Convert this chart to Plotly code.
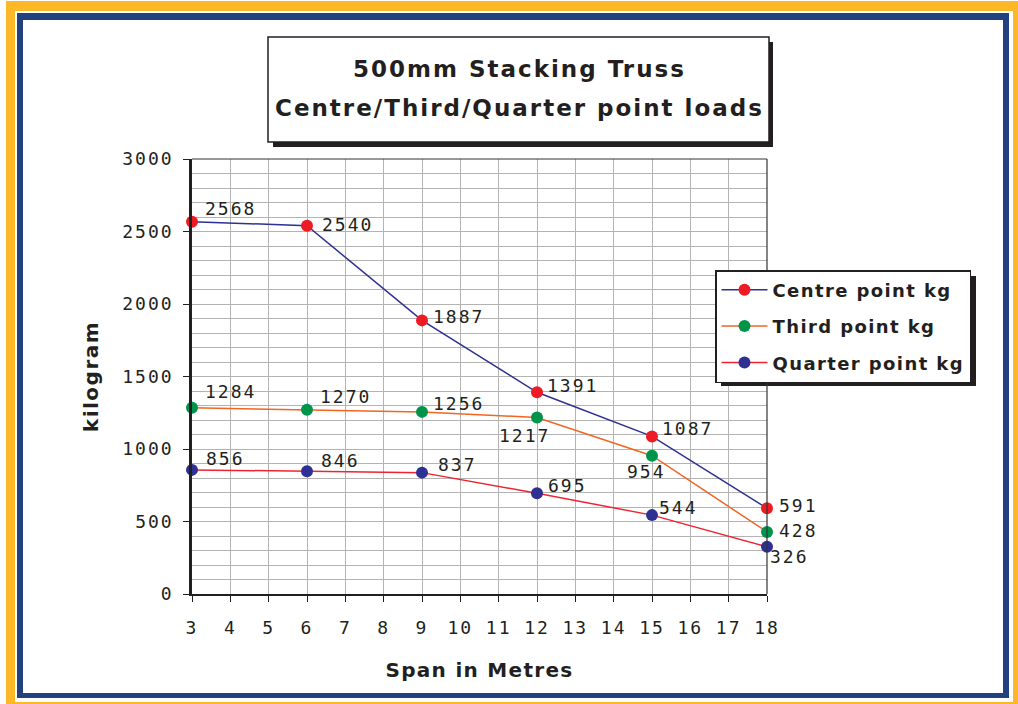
import plotly.graph_objects as go

# ---- data ----
span_m = [3, 6, 9, 12, 15, 18]
centre_kg = [2568, 2540, 1887, 1391, 1087, 591]
third_kg = [1284, 1270, 1256, 1217, 954, 428]
quarter_kg = [856, 846, 837, 695, 544, 326]
series_names = ["Centre point kg", "Third point kg", "Quarter point kg"]
x_ticks = list(range(3, 19))
y_ticks = [0, 500, 1000, 1500, 2000, 2500, 3000]
title_lines = ["500mm Stacking Truss", "Centre/Third/Quarter point loads"]
x_title = "Span in Metres"
y_title = "kilogram"

# ---- styles ----
line_colors = ["#2E3192", "#F26522", "#EE2432"]
marker_colors = ["#ED1C24", "#00944A", "#2E3192"]
# label offsets (px) per point: (dx, dy-up)
label_offsets = [
    [(37, 13), (39, 1), (35, 4), (34, 7), (34, 8), (30, 3)],
    [(37, 16), (37, 13), (35, 8), (-14, -18), (-7, -16), (30, 1)],
    [(32, 11), (32, 11), (34, 8), (29, 8), (25, 8), (21, -10)],
]

W, H = 1018, 704
L, R, T, B = 192, 251, 159, 110
PW, PH = W - L - R, H - T - B


def px(x):
    return (x - L) / PW


def py(y):
    return (H - B - y) / PH


def spaced(s, sp):
    return f'<span style="letter-spacing:{sp}px">{s}</span>'


TXT = "#231F20"
NUMFONT = "DejaVu Sans Mono"
SANS = "DejaVu Sans"

fig = go.Figure()
for name, ys, lc, mc in zip(series_names, [centre_kg, third_kg, quarter_kg], line_colors, marker_colors):
    fig.add_trace(go.Scatter(
        x=span_m, y=ys, name=spaced(name, 1.4), mode="lines+markers",
        line=dict(color=lc, width=1.5),
        marker=dict(color=mc, size=12),
        cliponaxis=False, legendgroup=name,
    ))

annotations = []
for ys, offs in zip([centre_kg, third_kg, quarter_kg], label_offsets):
    for xv, yv, (dx, dy) in zip(span_m, ys, offs):
        annotations.append(dict(
            x=xv, y=yv, xref="x", yref="y", text=spaced(str(yv), 2), showarrow=False,
            xshift=dx + 1, yshift=dy, font=dict(family=NUMFONT, size=18, color=TXT),
        ))

# title lines
for line_text, yc in zip(title_lines, [69, 108]):
    annotations.append(dict(
        x=px(519), y=py(yc), xref="paper", yref="paper", xanchor="center", yanchor="middle",
        text=spaced(line_text, 2), showarrow=False,
        font=dict(family=SANS, size=23, color=TXT, weight="bold"),
    ))

shapes = []


def rect(x0, y0, x1, y1, fill, layer="below", line=None):
    d = dict(type="rect", xref="paper", yref="paper", x0=px(x0), x1=px(x1), y0=py(y0), y1=py(y1),
             fillcolor=fill, layer=layer, line=dict(width=0))
    if line:
        d["line"] = line
    return d


# frame
shapes.append(rect(6, 1, 1030, 720, "#FDB827"))
shapes.append(rect(15, 11, 1013, 702, "white"))
shapes.append(rect(17, 13, 1009, 698, "#22417F"))
shapes.append(rect(23, 20, 1003, 693, "white"))
# title shadow and box
shapes.append(rect(273, 42, 773, 147, "#231F20", layer="above"))
shapes.append(rect(268, 37, 769, 142, "white", layer="above", line=dict(color=TXT, width=1.5)))
# legend shadow
shapes.append(rect(721, 276, 976, 386, "#231F20", layer="above"))
# top and right plot border
shapes.append(dict(type="line", xref="paper", yref="paper", x0=0, x1=1, y0=1, y1=1,
                   line=dict(color="#333333", width=1.2), layer="above"))
shapes.append(dict(type="line", xref="paper", yref="paper", x0=1, x1=1, y0=0, y1=1,
                   line=dict(color="#333333", width=1.2), layer="above"))

fig.update_layout(
    width=W, height=H, margin=dict(l=L, r=R, t=T, b=B, autoexpand=False),
    paper_bgcolor="white", plot_bgcolor="white",
    showlegend=True,
    legend=dict(x=px(715), y=py(270), xanchor="left", yanchor="top",
                bgcolor="white", bordercolor="#231F20", borderwidth=1.5,
                font=dict(family=SANS, size=18, color=TXT, weight="bold"),
                traceorder="grouped", tracegroupgap=10, itemwidth=46),
    annotations=annotations, shapes=shapes,
    xaxis=dict(range=[3, 18], tickvals=x_ticks, ticktext=[spaced(str(v), 2) for v in x_ticks],
               showgrid=True, gridcolor="#B3B3B3", gridwidth=1,
               showline=True, linecolor="#231F20", linewidth=2, ticks="outside", ticklen=6,
               tickcolor="#231F20", tickwidth=1.2, ticklabelstandoff=10,
               tickfont=dict(family=NUMFONT, size=18, color=TXT), zeroline=False,
               title=dict(text=spaced(x_title, 1.3), font=dict(family=SANS, size=20, color=TXT, weight="bold"),
                          standoff=26)),
    yaxis=dict(range=[0, 3000], tickvals=y_ticks, ticktext=[spaced(str(v), 2) for v in y_ticks],
               showgrid=True, gridcolor="#B3B3B3", gridwidth=1,
               minor=dict(dtick=100, showgrid=True, gridcolor="#B3B3B3", gridwidth=1),
               showline=True, linecolor="#231F20", linewidth=2.5, ticks="outside", ticklen=6,
               tickcolor="#231F20", tickwidth=1.2, ticklabelstandoff=6,
               tickfont=dict(family=NUMFONT, size=18, color=TXT), zeroline=False,
               title=dict(text=spaced(y_title, 1.5), font=dict(family=SANS, size=20, color=TXT, weight="bold"),
                          standoff=19)),
)

fig.write_html("out.html", config={"displayModeBar": False},
               post_script="document.body.style.margin='0px';")
